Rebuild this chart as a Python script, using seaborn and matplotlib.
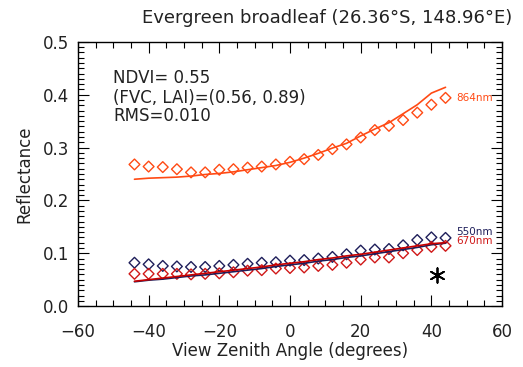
import pandas as pd
import matplotlib.pyplot as plt
import matplotlib.ticker as mticker
import seaborn as sns

# view zenith angles
vza = [-44, -40, -36, -32, -28, -24, -20, -16, -12, -8, -4, 0,
       4, 8, 12, 16, 20, 24, 28, 32, 36, 40, 44]

# observed reflectance (diamonds)
obs_864 = [0.268, 0.264, 0.263, 0.259, 0.253, 0.253, 0.258, 0.259, 0.262, 0.264, 0.268, 0.273,
           0.278, 0.286, 0.297, 0.306, 0.319, 0.333, 0.341, 0.352, 0.366, 0.381, 0.394]
obs_550 = [0.082, 0.079, 0.076, 0.075, 0.074, 0.074, 0.076, 0.078, 0.080, 0.082, 0.083, 0.086,
           0.087, 0.090, 0.093, 0.098, 0.105, 0.107, 0.108, 0.115, 0.125, 0.130, 0.129]
obs_670 = [0.061, 0.061, 0.061, 0.061, 0.060, 0.061, 0.062, 0.064, 0.067, 0.068, 0.071, 0.072,
           0.073, 0.076, 0.078, 0.082, 0.088, 0.092, 0.092, 0.100, 0.106, 0.112, 0.114]

# modelled reflectance (lines)
mod_864 = [0.240, 0.242, 0.243, 0.244, 0.246, 0.249, 0.251, 0.254, 0.258, 0.262, 0.266, 0.272,
           0.280, 0.289, 0.299, 0.308, 0.322, 0.335, 0.347, 0.364, 0.381, 0.403, 0.414]
mod_550 = [0.046, 0.049, 0.051, 0.054, 0.057, 0.059, 0.062, 0.065, 0.068, 0.071, 0.075, 0.078,
           0.081, 0.085, 0.088, 0.092, 0.095, 0.099, 0.103, 0.107, 0.111, 0.116, 0.119]
mod_670 = [0.047, 0.050, 0.053, 0.056, 0.059, 0.062, 0.065, 0.068, 0.071, 0.074, 0.078, 0.081,
           0.084, 0.088, 0.091, 0.095, 0.098, 0.102, 0.106, 0.110, 0.114, 0.118, 0.120]

sun_vza = [41.5]
sun_refl = [0.059]

bands = ['864nm', '550nm', '670nm']
colors = {'864nm': '#ff4a14', '550nm': '#1e1e5a', '670nm': '#d01818'}
line_colors = {'864nm': '#ff4a14', '550nm': '#1e1e5a', '670nm': '#c80000'}

obs = pd.DataFrame({'vza': vza * 3,
                    'refl': obs_864 + obs_550 + obs_670,
                    'band': [b for b in bands for _ in vza]})
mod = pd.DataFrame({'vza': vza * 3,
                    'refl': mod_864 + mod_550 + mod_670,
                    'band': [b for b in bands for _ in vza]})

sns.set_style('ticks')
plt.rcParams['font.family'] = ['DejaVu Sans']
txt = '#222222'

fig = plt.figure(figsize=(5.23, 3.67), dpi=100)
ax = fig.add_axes([0.149, 0.166, 0.811, 0.72])

for b in ['550nm', '670nm', '864nm']:
    sns.lineplot(data=mod[mod.band == b], x='vza', y='refl', color=line_colors[b],
                 linewidth=1.2, ax=ax, legend=False)
for b in ['550nm', '670nm', '864nm']:
    sns.scatterplot(data=obs[obs.band == b], x='vza', y='refl', marker='D', s=30,
                    facecolors='none', edgecolor=colors[b], linewidth=1.0, ax=ax, legend=False)
ax.scatter(sun_vza, sun_refl, marker=(6, 2, 0), s=110, color='black', linewidth=1.3)

ax.set_xlim(-60, 60)
ax.set_ylim(0, 0.5)
ax.xaxis.set_major_locator(mticker.MultipleLocator(20))
ax.xaxis.set_minor_locator(mticker.MultipleLocator(5))
ax.yaxis.set_major_locator(mticker.MultipleLocator(0.1))
ax.yaxis.set_minor_locator(mticker.MultipleLocator(0.01))
ax.yaxis.set_major_formatter(mticker.FormatStrFormatter('%.1f'))
ax.tick_params(which='both', direction='in', top=True, right=True, labelsize=12,
               color='black', labelcolor=txt)
ax.tick_params(which='major', length=8, width=0.8)
ax.tick_params(which='minor', length=4, width=0.8)
ax.tick_params(axis='x', which='major', pad=12)
ax.tick_params(axis='y', which='major', pad=6)
for s in ax.spines.values():
    s.set_linewidth(1.0)
    s.set_color('black')

ax.set_xlabel('View Zenith Angle (degrees)', fontsize=12, color=txt, labelpad=1)
ax.set_ylabel('Reflectance', fontsize=12, color=txt, labelpad=7)
ax.text(10.5, 0.545, 'Evergreen broadleaf (26.36°S, 148.96°E)', fontsize=13, color=txt,
        ha='center', va='center')

ax.text(-50, 0.431, 'NDVI= 0.55', fontsize=12, va='center', color=txt)
ax.text(-50, 0.393, '(FVC, LAI)=(0.56, 0.89)', fontsize=12, va='center', color=txt)
ax.text(-50, 0.359, 'RMS=0.010', fontsize=12, va='center', color=txt)

ax.text(47, 0.393, '864nm', fontsize=7.5, color=colors['864nm'], va='center')
ax.text(47, 0.141, '550nm', fontsize=7.5, color=colors['550nm'], va='center')
ax.text(47, 0.123, '670nm', fontsize=7.5, color=colors['670nm'], va='center')

fig.savefig('out.png', dpi=100)
